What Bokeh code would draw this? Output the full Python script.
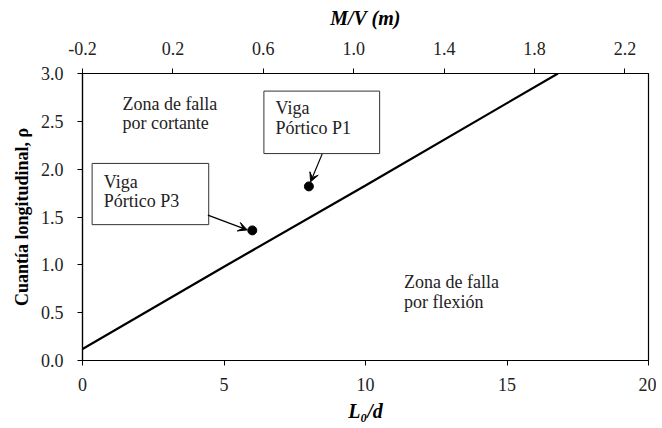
from bokeh.plotting import figure
from bokeh.models import (Range1d, LinearAxis, FixedTicker, Arrow, VeeHead,
                          NumeralTickFormatter)
from bokeh.core.properties import value
from bokeh.embed import file_html
from bokeh.resources import INLINE

# ---- data ----
line_x = [0, 5, 10, 15, 16.8]
line_y = [0.12, 0.98, 1.83, 2.69, 3.0]
beam_names = ["Viga\nPórtico P1", "Viga\nPórtico P3"]
beam_x = [8.0, 6.0]
beam_y = [1.82, 1.36]
x_ticks = [0, 5, 10, 15, 20]
y_ticks = [0.0, 0.5, 1.0, 1.5, 2.0, 2.5, 3.0]
mv_ticks = [-0.2, 0.2, 0.6, 1.0, 1.4, 1.8, 2.2]
zone_names = ["Zona de falla\npor cortante", "Zona de falla\npor flexión"]

FONT = "Liberation Serif"
TXT = "#222222"

p = figure(frame_width=566, frame_height=287,
           min_border_left=82, min_border_right=8, min_border_top=73, min_border_bottom=68,
           x_range=Range1d(0, 20), y_range=Range1d(0, 3),
           output_backend="svg", toolbar_location=None, x_axis_location="below")
p.extra_x_ranges = {"mv": Range1d(-0.2, 2.304)}
p.grid.visible = False
p.outline_line_color = "black"
p.outline_line_width = 1.2
p.background_fill_color = "white"
p.border_fill_color = "white"

def style_axis(ax, label, size="18px"):
    ax.axis_label = label
    ax.axis_label_text_font = FONT
    ax.axis_label_text_font_size = "20px"
    ax.axis_label_text_font_style = "bold italic"
    ax.axis_label_text_color = "black"
    ax.major_label_text_font = FONT
    ax.major_label_text_font_size = size
    ax.major_label_text_color = TXT
    ax.axis_line_color = "black"
    ax.axis_line_width = 1.2
    ax.major_tick_line_color = "black"
    ax.major_tick_in = 0
    ax.major_tick_out = 5
    ax.minor_tick_line_color = None

xa = p.xaxis[0]
style_axis(xa, "L₀/d")
xa.ticker = FixedTicker(ticks=x_ticks)
xa.major_label_standoff = 12
xa.axis_label_standoff = 6

ya = p.yaxis[0]
style_axis(ya, "Cuantía longitudinal, ρ")
ya.axis_label_text_font_size = "18px"
ya.axis_label_text_font_style = "bold"
ya.ticker = FixedTicker(ticks=y_ticks)
ya.formatter = NumeralTickFormatter(format="0.0")
ya.major_label_standoff = 14
ya.axis_label_standoff = 6

top = LinearAxis(x_range_name="mv")
style_axis(top, "M/V (m)")
top.ticker = FixedTicker(ticks=mv_ticks)
top.formatter = NumeralTickFormatter(format="0.0")
top.major_label_standoff = 14
top.axis_label_standoff = 10
p.add_layout(top, "above")

# boundary line
p.line(line_x, line_y, line_color="black", line_width=2.2)

# boxes
p.quad(left=[6.41, 0.34], right=[10.5, 4.46], top=[2.816, 2.06], bottom=[2.163, 1.42],
       fill_color="white", line_color="#333333", line_width=1)

# arrows
arrow_start_x = [8.47, 4.43]
arrow_start_y = [2.16, 1.52]
arrow_end_x = [8.06, 5.82]
arrow_end_y = [1.868, 1.365]
for sx, sy, ex, ey in zip(arrow_start_x, arrow_start_y, arrow_end_x, arrow_end_y):
    p.add_layout(Arrow(x_start=sx, y_start=sy, x_end=ex, y_end=ey, line_width=1.2,
                       line_color="black",
                       end=VeeHead(size=9, fill_color="black", line_color="black")))

# points
p.scatter(beam_x, beam_y, size=9, color="black")

# texts via text glyph
txt_x = [6.82, 0.75, 1.41, 11.36]
txt_y = [2.74, 1.975, 2.79, 0.92]
txt_s = [beam_names[0], beam_names[1], zone_names[0], zone_names[1]]
p.text(x=txt_x, y=txt_y, text=txt_s, text_font=value(FONT), text_font_size="18px",
       text_color=TXT, text_align="left", text_baseline="top", text_line_height=0.97)

open("out.html", "w").write(file_html(p, INLINE))
